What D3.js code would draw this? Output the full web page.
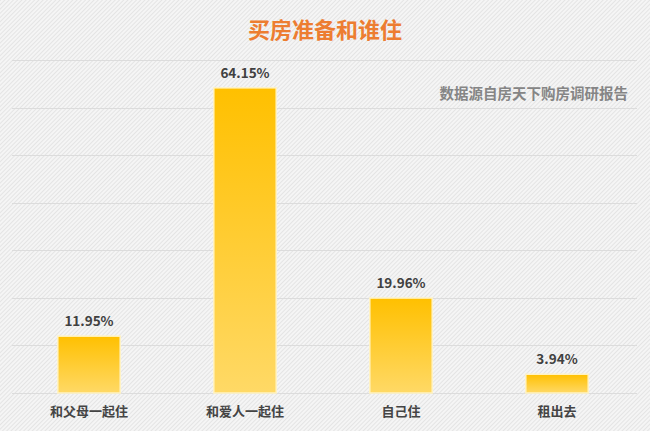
<!DOCTYPE html>
<html>
<head>
<meta charset="utf-8">
<script src="https://cdn.jsdelivr.net/npm/d3@7"></script>
<style>
  body { margin: 0; background: #f4f4f4; }
  svg { display: block; }
</style>
</head>
<body>
<svg id="chart" width="650" height="431"></svg>
<script>
// data
var categories = ["和父母一起住", "和爱人一起住", "自己住", "租出去"];
var shares = [11.95, 64.15, 19.96, 3.94];
var gridTicks = [0, 10, 20, 30, 40, 50, 60, 70];
var titleText = "买房准备和谁住";
var sourceText = "数据源自房天下购房调研报告";

var svg = d3.select("#chart");
var W = 650, H = 431;
var font = "'Noto Sans CJK SC', 'Noto Sans', sans-serif";

// striped background
var defs = svg.append("defs");
var pat = defs.append("pattern")
    .attr("id", "stripes")
    .attr("width", 3).attr("height", 3)
    .attr("patternUnits", "userSpaceOnUse")
    .attr("patternTransform", "rotate(45)");
pat.append("rect").attr("width", 3).attr("height", 3).attr("fill", "#f5f5f5");
pat.append("rect").attr("width", 1).attr("height", 3).attr("fill", "#e4e4e4");

var grad = defs.append("linearGradient")
    .attr("id", "barGrad")
    .attr("x1", 0).attr("y1", 0).attr("x2", 0).attr("y2", 1);
grad.append("stop").attr("offset", "0%").attr("stop-color", "#ffc000");
grad.append("stop").attr("offset", "100%").attr("stop-color", "#ffd966");

svg.append("rect").attr("width", W).attr("height", H).attr("fill", "url(#stripes)");

// scales
var x = d3.scaleBand()
    .domain(categories)
    .range([11, 635])
    .paddingInner(0.6)
    .paddingOuter(0.3);

var y = d3.scaleLinear()
    .domain([0, 70])
    .range([393, 60]);

// gridlines
svg.append("g").selectAll("line")
    .data(gridTicks)
    .enter().append("line")
    .attr("x1", 12).attr("x2", 637)
    .attr("y1", function(d) { return Math.round(y(d)) + 0.5; })
    .attr("y2", function(d) { return Math.round(y(d)) + 0.5; })
    .style("stroke", "#dcdcdc")
    .style("stroke-width", 1);

// bars
svg.append("g").selectAll("rect")
    .data(shares)
    .enter().append("rect")
    .attr("x", function(d, i) { return x(categories[i]); })
    .attr("y", function(d) { return y(d); })
    .attr("width", x.bandwidth())
    .attr("height", function(d) { return y(0) - y(d); })
    .attr("fill", "url(#barGrad)")
    .style("stroke", "#fff3c4")
    .style("stroke-width", 1.5);

// value labels
svg.append("g").selectAll("text")
    .data(shares)
    .enter().append("text")
    .attr("x", function(d, i) { return x(categories[i]) + x.bandwidth() / 2; })
    .attr("y", function(d) { return y(d) - 10; })
    .attr("text-anchor", "middle")
    .style("font-family", font)
    .style("font-size", "13.5px")
    .style("font-weight", "bold")
    .style("fill", "#404040")
    .text(function(d) { return d3.format(".2f")(d) + "%"; });

// category labels
svg.append("g").selectAll("text")
    .data(categories)
    .enter().append("text")
    .attr("x", function(d) { return x(d) + x.bandwidth() / 2; })
    .attr("y", 416)
    .attr("text-anchor", "middle")
    .style("font-family", font)
    .style("font-size", "13px")
    .style("font-weight", "bold")
    .style("fill", "#444")
    .text(function(d) { return d; });

// title
svg.append("text")
    .attr("x", W / 2)
    .attr("y", 38)
    .attr("text-anchor", "middle")
    .style("font-family", font)
    .style("font-size", "22px")
    .style("font-weight", "bold")
    .style("fill", "#ed7d31")
    .text(titleText);

// source note
svg.append("text")
    .attr("x", 628)
    .attr("y", 99)
    .attr("text-anchor", "end")
    .style("font-family", font)
    .style("font-size", "14.5px")
    .style("font-weight", "bold")
    .style("fill", "#858585")
    .text(sourceText);
</script>
</body>
</html>
